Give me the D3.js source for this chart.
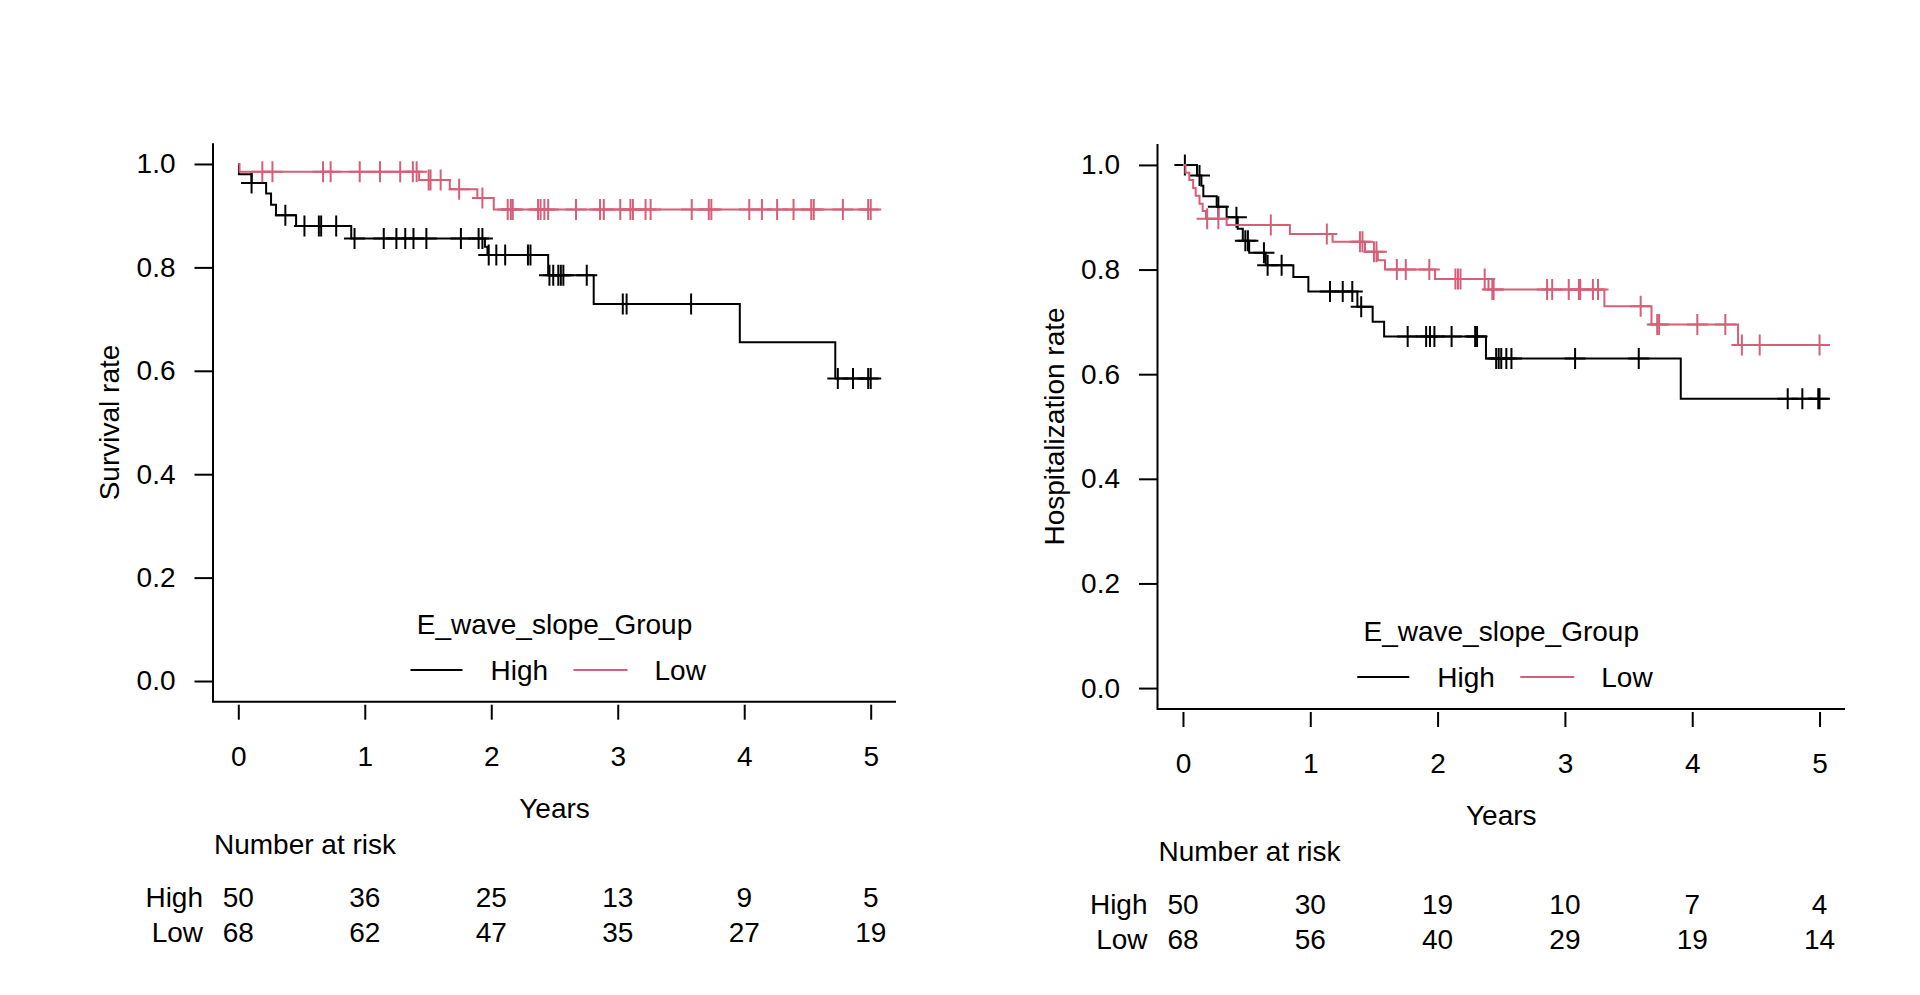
<!DOCTYPE html>
<html>
<head>
<meta charset="utf-8">
<script src="https://cdn.jsdelivr.net/npm/d3@7"></script>
<style>
  body { margin: 0; background: #fff; }
  text { font-family: "Liberation Sans", Arial, sans-serif; }
</style>
</head>
<body>
<svg id="chart" width="1920" height="995"></svg>
<script>
// ---- data ----
// events: [time in years, survival after the drop]; censor: times of "+" marks
const xTicks = [0, 1, 2, 3, 4, 5];
const yTicks = [0, 0.2, 0.4, 0.6, 0.8, 1.0];
const groups = ["High", "Low"];
const legendTitle = "E_wave_slope_Group";

const survHighEvents = [[0.005, 0.98], [0.105, 0.963], [0.22, 0.943], [0.259, 0.921], [0.298, 0.901],
  [0.457, 0.880], [0.893, 0.856], [1.95, 0.840], [1.97, 0.824], [2.45, 0.785], [2.81, 0.729],
  [3.965, 0.655], [4.72, 0.585]];
const survHighCensor = [0.105, 0.372, 0.523, 0.637, 0.655, 0.774, 0.919, 1.15, 1.25, 1.32, 1.385, 1.487,
  1.76, 1.90, 1.93, 1.98, 2.04, 2.11, 2.29, 2.31, 2.46, 2.49, 2.53, 2.55, 2.57, 2.755, 3.04, 3.07,
  3.58, 4.74, 4.86, 4.98, 5.0];
const survLowEvents = [[0.01, 0.985], [1.43, 0.969], [1.672, 0.951], [1.89, 0.934], [2.02, 0.912]];
const survLowCensor = [0.19, 0.27, 0.67, 0.73, 0.96, 1.12, 1.28, 1.38, 1.41, 1.505, 1.52, 1.60, 1.746,
  1.93, 2.13, 2.155, 2.17, 2.37, 2.39, 2.42, 2.45, 2.67, 2.86, 2.89, 3.02, 3.10, 3.12, 3.22, 3.26,
  3.585, 3.72, 3.74, 4.04, 4.14, 4.26, 4.39, 4.53, 4.55, 4.78, 4.98, 5.0];
const survRiskHigh = [50, 36, 25, 13, 9, 5];
const survRiskLow = [68, 62, 47, 35, 27, 19];

const hospHighEvents = [[0.11, 0.98], [0.145, 0.96], [0.16, 0.94], [0.265, 0.92], [0.343, 0.90],
  [0.43, 0.878], [0.47, 0.855], [0.52, 0.832], [0.65, 0.808], [0.867, 0.786], [0.985, 0.758],
  [1.37, 0.729], [1.49, 0.70], [1.58, 0.672], [2.38, 0.630], [3.91, 0.553]];
const hospHighCensor = [0.015, 0.13, 0.278, 0.42, 0.49, 0.51, 0.636, 0.665, 0.775, 1.155, 1.255, 1.33,
  1.40, 1.765, 1.91, 1.94, 1.975, 2.11, 2.295, 2.31, 2.46, 2.48, 2.50, 2.54, 2.58, 3.08, 3.58,
  4.75, 4.865, 4.99, 5.0];
const hospLowEvents = [[0.02, 0.985], [0.05, 0.971], [0.08, 0.956], [0.10, 0.941], [0.13, 0.926],
  [0.155, 0.912], [0.18, 0.897], [0.343, 0.885], [0.84, 0.868], [1.175, 0.853], [1.43, 0.834],
  [1.53, 0.818], [1.587, 0.80], [1.98, 0.782], [2.40, 0.762], [3.31, 0.730], [3.68, 0.695],
  [4.36, 0.656]];
const hospLowCensor = [0.19, 0.278, 0.69, 1.13, 1.39, 1.41, 1.50, 1.52, 1.68, 1.75, 1.935, 2.14, 2.16,
  2.18, 2.37, 2.43, 2.44, 2.86, 2.90, 3.03, 3.11, 3.12, 3.22, 3.26, 3.595, 3.725, 3.74, 4.04,
  4.26, 4.39, 4.53, 5.0];
const hospRiskHigh = [50, 30, 19, 10, 7, 4];
const hospRiskLow = [68, 56, 40, 29, 19, 14];

const colors = { High: "#000000", Low: "#D65F78" };
const fontSize = 28;

const svg = d3.select("#chart");

const panels = [
  { x0: 213, x1: 896, yTop: 143.3, yBot: 701.7, yLabel: "Survival rate",
    curves: { High: [survHighEvents, survHighCensor], Low: [survLowEvents, survLowCensor] },
    risk: { High: survRiskHigh, Low: survRiskLow } },
  { x0: 1157.5, x1: 1845, yTop: 144, yBot: 709, yLabel: "Hospitalization rate",
    curves: { High: [hospHighEvents, hospHighCensor], Low: [hospLowEvents, hospLowCensor] },
    risk: { High: hospRiskHigh, Low: hospRiskLow } }
];

// survival value at time t from a step list
function survAt(events, t) {
  var s = 1;
  events.forEach(function (e) { if (e[0] <= t) s = e[1]; });
  return s;
}

panels.forEach(function (p) {
  var x = d3.scaleLinear().domain([-0.2, 5.2]).range([p.x0, p.x1]);
  var y = d3.scaleLinear().domain([-0.04, 1.04]).range([p.yBot, p.yTop]);
  var cx = (p.x0 + p.x1) / 2;
  var g = svg.append("g");

  // L-shaped box
  g.append("path")
    .attr("d", "M" + p.x0 + "," + p.yTop + "V" + p.yBot + "H" + p.x1)
    .attr("fill", "none").attr("stroke", "#000").attr("stroke-width", 2);

  // y axis
  var ya = g.append("g")
    .attr("transform", "translate(" + p.x0 + ",0)")
    .call(d3.axisLeft(y).tickValues(yTicks).tickSize(18.5).tickPadding(19).tickFormat(d3.format(".1f")));
  ya.select(".domain").remove();
  ya.selectAll("line").attr("stroke-width", 2);
  ya.selectAll("text").attr("font-size", fontSize).attr("font-family", null);

  // x axis (ticks sit a little below the box)
  var xa = g.append("g")
    .attr("transform", "translate(0," + (p.yBot + 3) + ")")
    .call(d3.axisBottom(x).tickValues(xTicks).tickSize(15).tickPadding(26.5).tickFormat(d3.format("d")));
  xa.select(".domain").remove();
  xa.selectAll("line").attr("stroke-width", 2);
  xa.selectAll("text").attr("font-size", fontSize).attr("font-family", null);

  // axis titles
  g.append("text")
    .attr("x", cx).attr("y", p.yBot + 106).attr("dy", "0.35em")
    .attr("text-anchor", "middle").attr("font-size", fontSize).text("Years");
  g.append("text")
    .attr("transform", "translate(" + (p.x0 - 103.5) + "," + ((p.yTop + p.yBot) / 2) + ") rotate(-90)")
    .attr("dy", "0.35em").attr("text-anchor", "middle").attr("font-size", fontSize).text(p.yLabel);

  // curves and censor marks
  var line = d3.line()
    .x(function (d) { return x(d[0]); })
    .y(function (d) { return y(d[1]); })
    .curve(d3.curveStepAfter);

  groups.forEach(function (grp) {
    var events = p.curves[grp][0];
    var censor = p.curves[grp][1];
    var endT = d3.max(censor.concat(events.map(function (e) { return e[0]; })));
    var pts = [[0, 1]].concat(events).concat([[endT, events[events.length - 1][1]]]);

    g.append("path")
      .datum(pts)
      .attr("fill", "none")
      .attr("stroke", colors[grp])
      .attr("stroke-width", 2)
      .attr("d", line);

    g.append("g").selectAll("path")
      .data(censor)
      .join("path")
      .attr("d", function (t) {
        var px = x(t), py = y(survAt(events, t));
        return "M" + (px - 10.5) + "," + py + "H" + (px + 10.5) +
               "M" + px + "," + (py - 10.5) + "V" + (py + 10.5);
      })
      .attr("fill", "none")
      .attr("stroke", colors[grp])
      .attr("stroke-width", 2);
  });

  // legend
  var y0 = y(0);
  g.append("text")
    .attr("x", cx).attr("y", y0 - 57).attr("dy", "0.35em")
    .attr("text-anchor", "middle").attr("font-size", fontSize).text(legendTitle);
  var legendOffsets = { High: [-144, -92, -64], Low: [19, 73, 100] };
  groups.forEach(function (grp) {
    var o = legendOffsets[grp];
    g.append("line")
      .attr("x1", cx + o[0]).attr("x2", cx + o[1])
      .attr("y1", y0 - 11).attr("y2", y0 - 11)
      .attr("stroke", colors[grp]).attr("stroke-width", 2);
    g.append("text")
      .attr("x", cx + o[2]).attr("y", y0 - 11).attr("dy", "0.35em")
      .attr("font-size", fontSize).text(grp);
  });

  // number at risk table
  g.append("text")
    .attr("x", p.x0 + 1).attr("y", p.yBot + 142).attr("dy", "0.35em")
    .attr("font-size", fontSize).text("Number at risk");
  var rowY = { High: p.yBot + 195.5, Low: p.yBot + 230 };
  groups.forEach(function (grp) {
    g.append("text")
      .attr("x", p.x0 - 10).attr("y", rowY[grp]).attr("dy", "0.35em")
      .attr("text-anchor", "end").attr("font-size", fontSize).text(grp);
    g.append("g").selectAll("text")
      .data(p.risk[grp])
      .join("text")
      .attr("x", function (d, i) { return x(xTicks[i]); })
      .attr("y", rowY[grp]).attr("dy", "0.35em")
      .attr("text-anchor", "middle").attr("font-size", fontSize)
      .text(function (d) { return d; });
  });
});
</script>
</body>
</html>
